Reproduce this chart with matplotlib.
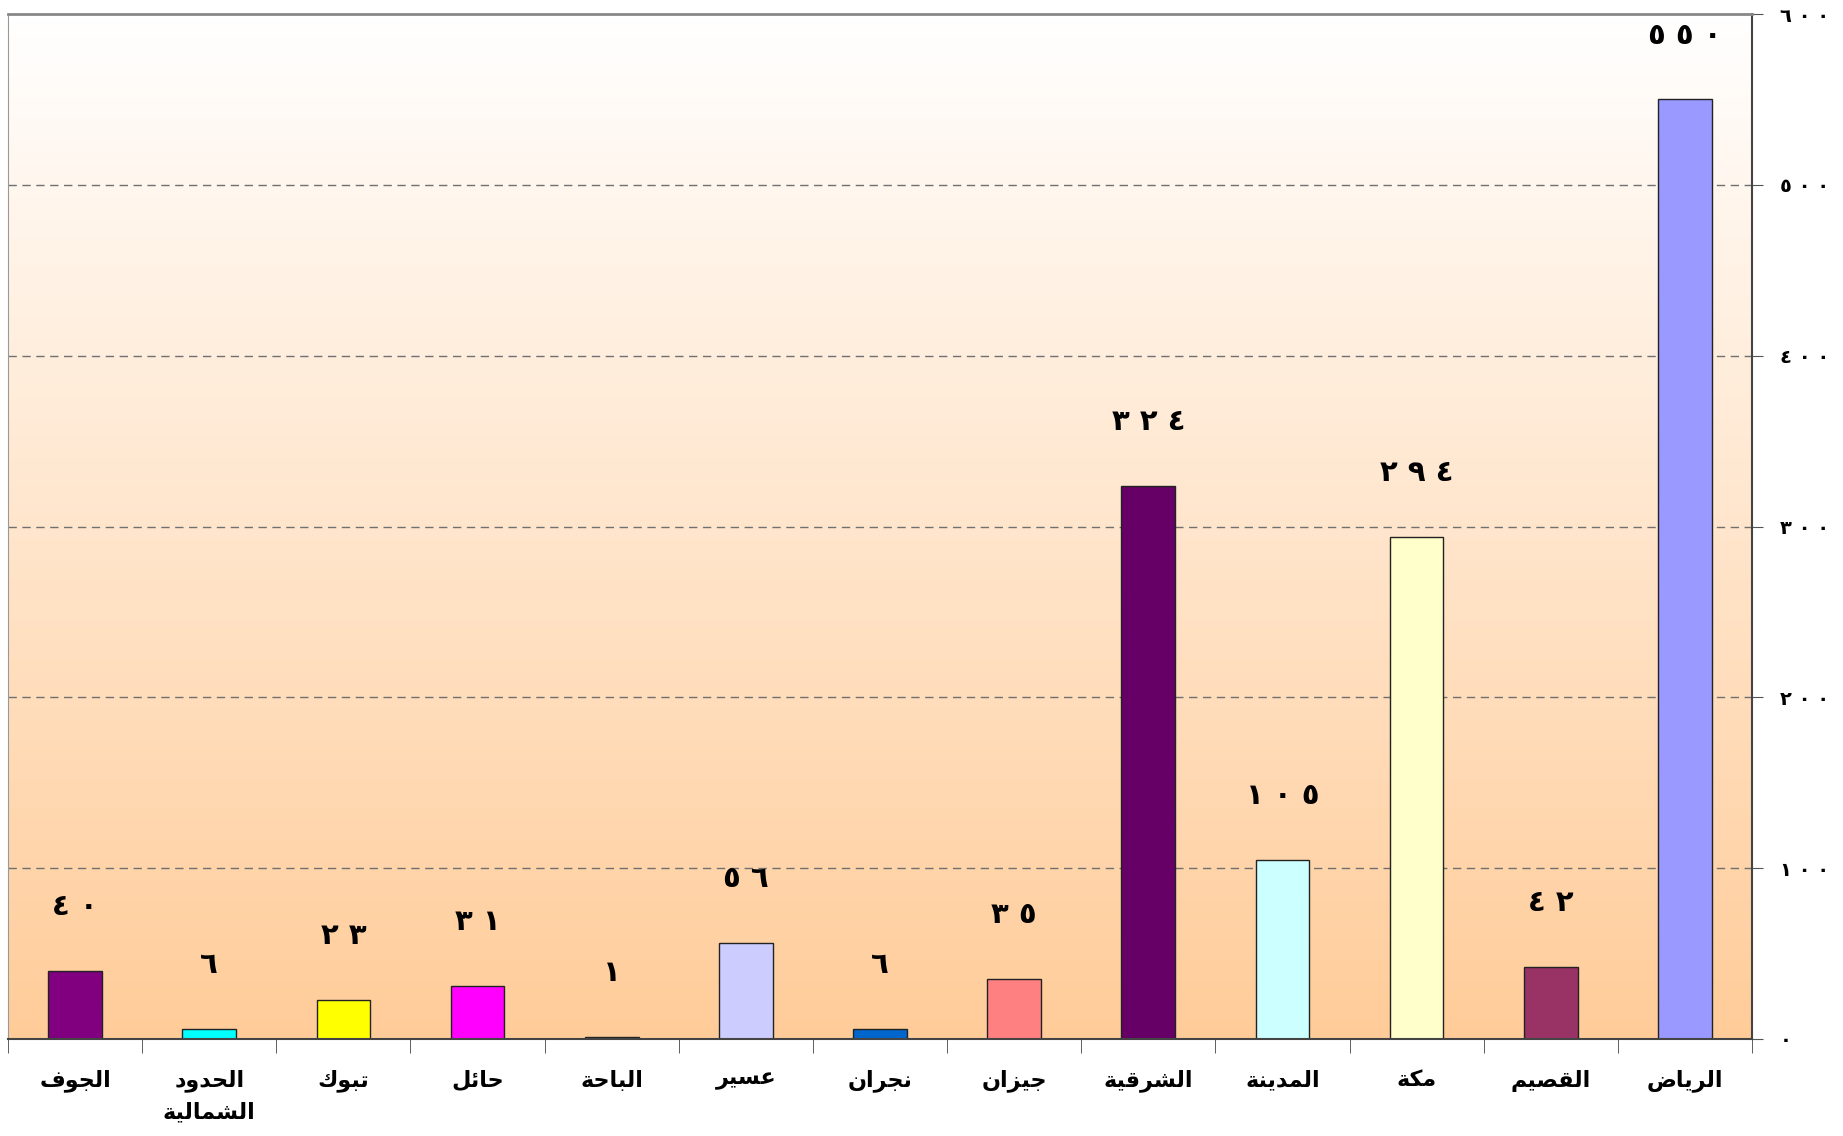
import numpy as np
import matplotlib.pyplot as plt
from matplotlib.colors import LinearSegmentedColormap

# regions, left to right as in the picture
regions = ["الجوف", "الحدود\nالشمالية", "تبوك", "حائل", "الباحة", "عسير",
           "نجران", "جيزان", "الشرقية", "المدينة", "مكة", "القصيم", "الرياض"]
values = [40, 6, 23, 31, 1, 56, 6, 35, 324, 105, 294, 42, 550]
bar_colors = ["#800080", "#00FFFF", "#FFFF00", "#FF00FF", "#000080", "#CCCCFF",
              "#0066CC", "#FF8080", "#660066", "#CCFFFF", "#FFFFCC", "#993366", "#9999FF"]
y_ticks = [0, 100, 200, 300, 400, 500, 600]

# presentation forms: isolated, final, initial, medial
FORMS = {
    "ا": "\uFE8D\uFE8E", "ئ": "\uFE89\uFE8A\uFE8B\uFE8C", "ب": "\uFE8F\uFE90\uFE91\uFE92",
    "ة": "\uFE93\uFE94", "ت": "\uFE95\uFE96\uFE97\uFE98", "ج": "\uFE9D\uFE9E\uFE9F\uFEA0",
    "ح": "\uFEA1\uFEA2\uFEA3\uFEA4", "د": "\uFEA9\uFEAA", "ر": "\uFEAD\uFEAE",
    "ز": "\uFEAF\uFEB0", "س": "\uFEB1\uFEB2\uFEB3\uFEB4", "ش": "\uFEB5\uFEB6\uFEB7\uFEB8",
    "ص": "\uFEB9\uFEBA\uFEBB\uFEBC", "ض": "\uFEBD\uFEBE\uFEBF\uFEC0",
    "ع": "\uFEC9\uFECA\uFECB\uFECC", "ف": "\uFED1\uFED2\uFED3\uFED4",
    "ق": "\uFED5\uFED6\uFED7\uFED8", "ك": "\uFED9\uFEDA\uFEDB\uFEDC",
    "ل": "\uFEDD\uFEDE\uFEDF\uFEE0", "م": "\uFEE1\uFEE2\uFEE3\uFEE4",
    "ن": "\uFEE5\uFEE6\uFEE7\uFEE8", "و": "\uFEED\uFEEE", "ي": "\uFEF1\uFEF2\uFEF3\uFEF4",
}


def shape_line(txt):
    out = []
    for i, ch in enumerate(txt):
        if ch not in FORMS:
            out.append(ch)
            continue
        prev = txt[i - 1] if i > 0 else ""
        nxt = txt[i + 1] if i + 1 < len(txt) else ""
        join_prev = prev in FORMS and len(FORMS[prev]) == 4
        join_next = len(FORMS[ch]) == 4 and nxt in FORMS
        idx = (1 if join_prev else 0) + (2 if join_next else 0)
        if idx >= len(FORMS[ch]):
            idx = 1 if join_prev else 0
        out.append(FORMS[ch][idx])
    return "".join(out)[::-1]


def ar(txt):
    return "\n".join(shape_line(l) for l in txt.split("\n"))


def ar_num(n):
    return " ".join("٠١٢٣٤٥٦٧٨٩"[int(d)] for d in str(n))


plt.rcParams['font.family'] = ['DejaVu Sans']

fig = plt.figure(figsize=(18.43, 11.36), dpi=100)
ax = fig.add_axes([8 / 1843, 1 - 1039 / 1136, 1744 / 1843, 1025 / 1136])

x = np.arange(len(regions))
ax.set_xlim(-0.5, len(regions) - 0.5)
ax.set_ylim(0, 600)

# gradient background, white at top to peach at bottom
cmap = LinearSegmentedColormap.from_list("bg", ["#FFFFFF", "#FFCC99"])
grad = np.linspace(0, 1, 256).reshape(-1, 1)
ax.imshow(grad, cmap=cmap, aspect="auto", origin="upper",
          extent=[-0.5, len(regions) - 0.5, 0, 600], zorder=0)

for yv in y_ticks[1:-1]:
    ax.axhline(yv, color="#707070", lw=1, ls=(0, (6, 4)), zorder=1)

ax.bar(x, values, width=0.4, color=bar_colors, edgecolor="#222222", linewidth=1, zorder=2)

for xi, v in zip(x, values):
    ax.annotate(ar_num(v), (xi, v), xytext=(0, 46), textcoords="offset points",
                ha="center", va="center", fontsize=21, fontweight="bold", zorder=3)

ax.yaxis.tick_right()
ax.set_yticks(y_ticks)
ax.set_yticklabels([ar_num(v) for v in y_ticks], fontsize=14, fontweight="bold")
ax.tick_params(axis="y", length=8, color="#555555", pad=12)

ax.set_xticks(x)
ax.set_xticklabels([ar(r) for r in regions], fontsize=16, fontweight="bold",
                   linespacing=1.6, va="top")
ax.set_xticks(np.arange(len(regions) + 1) - 0.5, minor=True)
ax.tick_params(axis="x", which="major", length=0, pad=22)
ax.tick_params(axis="x", which="minor", length=10, color="#444444")

ax.spines["top"].set_color("#888888")
ax.spines["top"].set_linewidth(2)
ax.spines["left"].set_color("#999999")
ax.spines["bottom"].set_color("#444444")
ax.spines["bottom"].set_linewidth(1.5)
ax.spines["right"].set_color("#444444")
ax.spines["right"].set_linewidth(1.5)

fig.savefig("out.png", dpi=100)
